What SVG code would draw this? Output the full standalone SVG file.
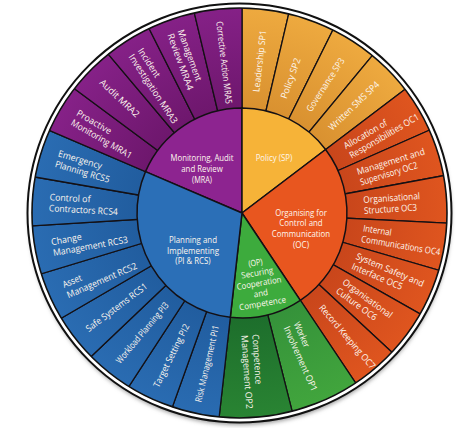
<svg xmlns="http://www.w3.org/2000/svg" width="474" height="428" viewBox="0 0 474 428">
<defs>
<style>
.o{font-family:"Open Sans","Noto Sans","Liberation Sans",sans-serif;font-size:9.2px;fill:#fdf6ee}
.i{font-family:"Open Sans","Noto Sans","Liberation Sans",sans-serif;font-size:8.6px;fill:#fdf6ee;text-anchor:middle}
.sep{stroke:#141014;stroke-width:1.3;stroke-linejoin:round}
.in{stroke:#141014;stroke-width:1.5;stroke-linejoin:round}
</style>
<clipPath id="ring"><ellipse cx="239.5" cy="213" rx="207.5" ry="205"/></clipPath>
<radialGradient id="gSP" gradientUnits="userSpaceOnUse" cx="242" cy="213" r="210"><stop offset="0.5" stop-color="#d99130"/><stop offset="1" stop-color="#efab40"/></radialGradient>
<radialGradient id="gOC" gradientUnits="userSpaceOnUse" cx="242" cy="213" r="210"><stop offset="0.5" stop-color="#c9461b"/><stop offset="1" stop-color="#e0561f"/></radialGradient>
<radialGradient id="gOP1" gradientUnits="userSpaceOnUse" cx="242" cy="213" r="210"><stop offset="0.5" stop-color="#35923a"/><stop offset="1" stop-color="#42a63d"/></radialGradient>
<radialGradient id="gOP2" gradientUnits="userSpaceOnUse" cx="242" cy="213" r="210"><stop offset="0.5" stop-color="#1d6e2c"/><stop offset="1" stop-color="#2a8533"/></radialGradient>
<radialGradient id="gPI" gradientUnits="userSpaceOnUse" cx="242" cy="213" r="210"><stop offset="0.5" stop-color="#215d9f"/><stop offset="1" stop-color="#2a6cb2"/></radialGradient>
<radialGradient id="gMRA" gradientUnits="userSpaceOnUse" cx="242" cy="213" r="210"><stop offset="0.5" stop-color="#6e176d"/><stop offset="1" stop-color="#862188"/></radialGradient>
<filter id="sh" x="-10%" y="-10%" width="120%" height="120%"><feGaussianBlur stdDeviation="2"/></filter>
</defs>

<!-- shadow and outer frame -->
<ellipse cx="240" cy="216" rx="211" ry="209" fill="#9a9a9a" filter="url(#sh)"/>
<ellipse cx="239.5" cy="213" rx="212" ry="209.5" fill="#ffffff" stroke="#111" stroke-width="2"/>

<g clip-path="url(#ring)">
<g id="SP-ring" fill="url(#gSP)" class="sep">
<polygon points="242,213 242,-17 294.5,-10.9"/>
<polygon points="242,213 294.5,-10.9 344.3,7.0"/>
<polygon points="242,213 344.3,7.0 388.6,35.8"/>
<polygon points="242,213 388.6,35.8 425.2,73.9"/>
</g>
<g id="OC-ring" fill="url(#gOC)" class="sep">
<polygon points="242,213 425.2,73.9 452.4,120.0"/>
<polygon points="242,213 452.4,120.0 468.2,171.1"/>
<polygon points="242,213 468.2,171.1 471.7,224.4"/>
<polygon points="242,213 471.7,224.4 462.9,277.2"/>
<polygon points="242,213 462.9,277.2 442.1,326.4"/>
<polygon points="242,213 442.1,326.4 410.5,369.6"/>
<polygon points="242,213 410.5,369.6 369.8,404.2"/>
</g>
<g id="OP-ring" class="sep">
<polygon fill="url(#gOP1)" points="242,213 369.8,404.2 298.4,436.0"/>
<polygon fill="url(#gOP2)" points="242,213 298.4,436.0 216.4,441.6"/>
</g>
<g id="PI-ring" fill="url(#gPI)" class="sep">
<polygon points="242,213 216.4,441.6 164.3,429.5"/>
<polygon points="242,213 164.3,429.5 116.4,405.7"/>
<polygon points="242,213 116.4,405.7 75.4,371.5"/>
<polygon points="242,213 75.4,371.5 43.2,328.7"/>
<polygon points="242,213 43.2,328.7 21.9,279.7"/>
<polygon points="242,213 21.9,279.7 12.4,227.0"/>
<polygon points="242,213 12.4,227.0 15.4,173.6"/>
<polygon points="242,213 15.4,173.6 30.6,122.4"/>
</g>
<g id="MRA-ring" fill="url(#gMRA)" class="sep">
<polygon points="242,213 30.6,122.4 57.3,76.1"/>
<polygon points="242,213 57.3,76.1 93.9,37.1"/>
<polygon points="242,213 93.9,37.1 138.5,7.6"/>
<polygon points="242,213 138.5,7.6 188.7,-10.7"/>
<polygon points="242,213 188.7,-10.7 242,-17"/>
</g>
</g>
<ellipse cx="239.5" cy="213" rx="207.5" ry="205" fill="none" stroke="#111" stroke-width="1.6"/>

<!-- inner sectors -->
<g id="MRA">
<path class="in" fill="#8d2490" d="M242,213 L145.5,171.6 A105,105 0 0 1 242,108 Z"/>
<text class="i"><tspan x="202" y="161" textLength="63" lengthAdjust="spacingAndGlyphs">Monitoring, Audit</tspan><tspan x="202" y="171.8" textLength="41.5" lengthAdjust="spacingAndGlyphs">and Review</tspan><tspan x="202" y="182.6" textLength="20" lengthAdjust="spacingAndGlyphs">(MRA)</tspan></text>
</g>
<g id="SP">
<path class="in" fill="#f6b338" d="M242,213 L242,108 A105,105 0 0 1 325.6,149.5 Z"/>
<text class="i" x="274" y="161.2" textLength="36.7" lengthAdjust="spacingAndGlyphs">Policy (SP)</text>
</g>
<g id="OC">
<path class="in" fill="#e8561f" d="M242,213 L325.6,149.5 A105,105 0 0 1 300.3,300.3 Z"/>
<text class="i"><tspan x="301" y="215.6" textLength="51.7" lengthAdjust="spacingAndGlyphs">Organising for</tspan><tspan x="301" y="226.4" textLength="43.3" lengthAdjust="spacingAndGlyphs">Control and</tspan><tspan x="301" y="237.2" textLength="58.3" lengthAdjust="spacingAndGlyphs">Communication</tspan><tspan x="301" y="248" textLength="16" lengthAdjust="spacingAndGlyphs">(OC)</tspan></text>
</g>
<g id="OP">
<path class="in" fill="#3dab3d" d="M242,213 L300.3,300.3 A105,105 0 0 1 230.3,317.3 Z"/>
<text class="i" transform="rotate(-10 259 283)"><tspan x="259" y="265.3" textLength="14.3" lengthAdjust="spacingAndGlyphs">(OP)</tspan><tspan x="259" y="275.6" textLength="32.3" lengthAdjust="spacingAndGlyphs">Securing</tspan><tspan x="259" y="286.1" textLength="45.3" lengthAdjust="spacingAndGlyphs">Cooperation</tspan><tspan x="259" y="296.4" textLength="14.3" lengthAdjust="spacingAndGlyphs">and</tspan><tspan x="259" y="306.7" textLength="47.3" lengthAdjust="spacingAndGlyphs">Competence</tspan></text>
</g>
<g id="PI">
<path class="in" fill="#2b6fb7" d="M242,213 L230.3,317.3 A105,105 0 0 1 145.5,171.6 Z"/>
<text class="i"><tspan x="193" y="242.8" textLength="48" lengthAdjust="spacingAndGlyphs">Planning and</tspan><tspan x="193" y="253.6" textLength="52" lengthAdjust="spacingAndGlyphs">Implementing</tspan><tspan x="193" y="264.4" textLength="35.3" lengthAdjust="spacingAndGlyphs">(PI &amp; RCS)</tspan></text>
</g>

<!-- outer labels, right side (read inward to outward) -->
<g id="SP1" transform="translate(242,213) rotate(-83.4)"><text class="o" x="122" y="3.3" textLength="62" lengthAdjust="spacingAndGlyphs">Leadership SP1</text></g>
<g id="SP2" transform="translate(242,213) rotate(-70.2)"><text class="o" x="122" y="3.3" textLength="42.5" lengthAdjust="spacingAndGlyphs">Policy SP2</text></g>
<g id="SP3" transform="translate(242,213) rotate(-57)"><text class="o" x="122" y="3.3" textLength="62" lengthAdjust="spacingAndGlyphs">Governance SP3</text></g>
<g id="SP4" transform="translate(242,213) rotate(-43.8)"><text class="o" x="122" y="3.3" textLength="66" lengthAdjust="spacingAndGlyphs">Written SMS SP4</text></g>
<g id="OC1" transform="translate(242,213) rotate(-30.5)"><text class="o"><tspan x="122" y="-2" textLength="48.6" lengthAdjust="spacingAndGlyphs">Allocation of</tspan><tspan x="122" y="9" textLength="79" lengthAdjust="spacingAndGlyphs">Responsibilities OC1</tspan></text></g>
<g id="OC2" transform="translate(242,213) rotate(-17.2)"><text class="o"><tspan x="122" y="-2" textLength="70.6" lengthAdjust="spacingAndGlyphs">Management and</tspan><tspan x="122" y="9" textLength="59.6" lengthAdjust="spacingAndGlyphs">Supervisory OC2</tspan></text></g>
<g id="OC3" transform="translate(242,213) rotate(-3.8)"><text class="o"><tspan x="122" y="-2" textLength="56.7" lengthAdjust="spacingAndGlyphs">Organisational</tspan><tspan x="122" y="9" textLength="53" lengthAdjust="spacingAndGlyphs">Structure OC3</tspan></text></g>
<g id="OC4" transform="translate(242,213) rotate(9.5)"><text class="o"><tspan x="122" y="-2" textLength="28.8" lengthAdjust="spacingAndGlyphs">Internal</tspan><tspan x="122" y="9" textLength="80" lengthAdjust="spacingAndGlyphs">Communications OC4</tspan></text></g>
<g id="OC5" transform="translate(242,213) rotate(22.9)"><text class="o"><tspan x="122" y="-2" textLength="73" lengthAdjust="spacingAndGlyphs">System Safety and</tspan><tspan x="122" y="9" textLength="54.4" lengthAdjust="spacingAndGlyphs">Interface OC5</tspan></text></g>
<g id="OC6" transform="translate(242,213) rotate(36.2)"><text class="o"><tspan x="122" y="-2" textLength="59.3" lengthAdjust="spacingAndGlyphs">Organisational</tspan><tspan x="122" y="9" textLength="48.5" lengthAdjust="spacingAndGlyphs">Culture OC6</tspan></text></g>
<g id="OC7" transform="translate(242,213) rotate(49.6)"><text class="o" x="122" y="3.3" textLength="81" lengthAdjust="spacingAndGlyphs">Record Keeping OC7</text></g>
<g id="OP1" transform="translate(242,213) rotate(66)"><text class="o"><tspan x="122" y="-2" textLength="27" lengthAdjust="spacingAndGlyphs">Worker</tspan><tspan x="122" y="9" textLength="70" lengthAdjust="spacingAndGlyphs">Involvement OP1</tspan></text></g>
<g id="OP2" transform="translate(242,213) rotate(86.1)"><text class="o"><tspan x="122" y="-2" textLength="50" lengthAdjust="spacingAndGlyphs">Competence</tspan><tspan x="122" y="9" textLength="74" lengthAdjust="spacingAndGlyphs">Management OP2</tspan></text></g>

<!-- outer labels, left side (read outward to inward) -->
<g id="PI1" transform="translate(242,213) rotate(-76.9)"><text class="o" x="-194" y="3.3" textLength="78.5" lengthAdjust="spacingAndGlyphs">Risk Management PI1</text></g>
<g id="PI2" transform="translate(242,213) rotate(-63.6)"><text class="o" x="-194" y="3.3" textLength="69.5" lengthAdjust="spacingAndGlyphs">Target Setting PI2</text></g>
<g id="PI3" transform="translate(242,213) rotate(-50.2)"><text class="o" x="-194" y="3.3" textLength="76.3" lengthAdjust="spacingAndGlyphs">Workload Planning PI3</text></g>
<g id="RCS1" transform="translate(242,213) rotate(-36.9)"><text class="o" x="-194" y="3.3" textLength="74" lengthAdjust="spacingAndGlyphs">Safe Systems RCS1</text></g>
<g id="RCS2" transform="translate(242,213) rotate(-23.5)"><text class="o"><tspan x="-193" y="-2" textLength="20" lengthAdjust="spacingAndGlyphs">Asset</tspan><tspan x="-193" y="9" textLength="75.3" lengthAdjust="spacingAndGlyphs">Management RCS2</tspan></text></g>
<g id="RCS3" transform="translate(242,213) rotate(-10.2)"><text class="o"><tspan x="-193" y="-2" textLength="31" lengthAdjust="spacingAndGlyphs">Change</tspan><tspan x="-193" y="9" textLength="76" lengthAdjust="spacingAndGlyphs">Management RCS3</tspan></text></g>
<g id="RCS4" transform="translate(242,213) rotate(3.2)"><text class="o"><tspan x="-193" y="-2" textLength="41" lengthAdjust="spacingAndGlyphs">Control of</tspan><tspan x="-193" y="9" textLength="69" lengthAdjust="spacingAndGlyphs">Contractors RCS4</tspan></text></g>
<g id="RCS5" transform="translate(242,213) rotate(16.5)"><text class="o"><tspan x="-193" y="-2" textLength="45.3" lengthAdjust="spacingAndGlyphs">Emergency</tspan><tspan x="-193" y="9" textLength="56.6" lengthAdjust="spacingAndGlyphs">Planning RCS5</tspan></text></g>
<g id="MRA1" transform="translate(242,213) rotate(29.9)"><text class="o"><tspan x="-193" y="-2" textLength="38.9" lengthAdjust="spacingAndGlyphs">Proactive</tspan><tspan x="-193" y="9" textLength="68.6" lengthAdjust="spacingAndGlyphs">Monitoring MRA1</tspan></text></g>
<g id="MRA2" transform="translate(242,213) rotate(43.2)"><text class="o" x="-193" y="3.3" textLength="50.7" lengthAdjust="spacingAndGlyphs">Audit MRA2</text></g>
<g id="MRA3" transform="translate(242,213) rotate(56.6)"><text class="o"><tspan x="-193" y="-2" textLength="32.9" lengthAdjust="spacingAndGlyphs">Incident</tspan><tspan x="-193" y="9" textLength="80.9" lengthAdjust="spacingAndGlyphs">Investigation MRA3</tspan></text></g>
<g id="MRA4" transform="translate(242,213) rotate(69.9)"><text class="o"><tspan x="-193" y="-2" textLength="53.9" lengthAdjust="spacingAndGlyphs">Management</tspan><tspan x="-193" y="9" textLength="59.7" lengthAdjust="spacingAndGlyphs">Review MRA4</tspan></text></g>
<g id="MRA5" transform="translate(242,213) rotate(83.3)"><text class="o" x="-193" y="3.3" textLength="83" lengthAdjust="spacingAndGlyphs">Corrective Action MRA5</text></g>
</svg>
